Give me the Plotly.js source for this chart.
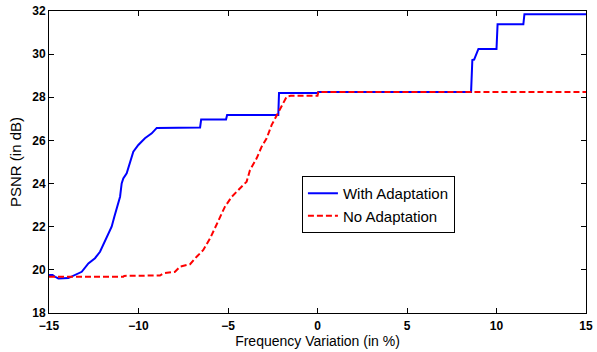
<!DOCTYPE html>
<html>
<head>
<meta charset="utf-8">
<script src="https://cdn.plot.ly/plotly-3.0.1.min.js"></script>
<style>html,body{margin:0;padding:0;background:#fff;}#chart{width:597px;height:352px;}</style>
</head>
<body>
<div id="chart"></div>
<script>
// With Adaptation
const withX = [-15, -14.8, -14.66, -14.48, -13.92, -13.55, -13.17, -12.8, -12.43, -12.15, -11.97, -11.69, -11.5, -11.35, -11.16, -11.03, -10.94, -10.85, -10.66, -10.47, -10.29, -10.01, -9.64, -9.26, -8.98, -6.56, -6.5, -5.11, -5.05, -2.19, -2.15, 0, 0.05, 8.58, 8.65, 8.75, 8.99, 10.0, 10.06, 11.5, 11.56, 15];
const withY = [19.76, 19.76, 19.68, 19.6, 19.62, 19.76, 19.91, 20.3, 20.54, 20.84, 21.15, 21.62, 22.0, 22.46, 22.96, 23.39, 24.01, 24.24, 24.48, 25.02, 25.48, 25.79, 26.1, 26.33, 26.58, 26.6, 26.97, 26.97, 27.18, 27.18, 28.2, 28.2, 28.25, 28.25, 29.73, 29.75, 30.24, 30.24, 31.38, 31.38, 31.85, 31.85];
// No Adaptation
const noX = [-15, -10.85, -10.8, -8.8, -8.61, -7.96, -7.68, -7.12, -6.75, -6.38, -6.0, -5.73, -5.35, -5.17, -4.79, -4.33, -3.96, -3.77, -3.4, -3.12, -2.84, -2.56, -2.28, -2.0, -1.72, -1.5, 0, 0.05, 15];
const noY = [19.68, 19.68, 19.72, 19.74, 19.84, 19.91, 20.15, 20.26, 20.61, 20.92, 21.46, 21.93, 22.62, 22.93, 23.39, 23.78, 24.09, 24.63, 25.17, 25.71, 26.1, 26.72, 27.18, 27.64, 28.03, 28.07, 28.07, 28.25, 28.25];
const xTicks = [-15, -10, -5, 0, 5, 10, 15];
const yTicks = [18, 20, 22, 24, 26, 28, 30, 32];
const seriesNames = ["With Adaptation", "No Adaptation"];

const traces = [
  {x: withX, y: withY, name: seriesNames[0], mode: 'lines', line: {color: '#0000ff', width: 2}},
  {x: noX, y: noY, name: seriesNames[1], mode: 'lines', line: {color: '#ff0000', width: 2, dash: '6px,3px'}}
];
const axisCommon = {
  showgrid: false, zeroline: false, showline: true, linecolor: '#000', linewidth: 1,
  mirror: 'ticks', ticks: 'inside', ticklen: 5, tickcolor: '#000',
  tickfont: {family: 'Arial, Liberation Sans, sans-serif', size: 12, color: '#000', weight: 'bold'}
};
const layout = {
  width: 597, height: 352,
  margin: {l: 49, r: 11, t: 11, b: 39},
  paper_bgcolor: '#fff', plot_bgcolor: '#fff',
  showlegend: true,
  legend: {x: 0.471, y: 0.4536, xanchor: 'left', yanchor: 'top', bgcolor: '#fff',
    bordercolor: '#000', borderwidth: 1,
    font: {family: 'Arial, Liberation Sans, sans-serif', size: 15, color: '#000'}},
  xaxis: Object.assign({}, axisCommon, {range: [-15, 15], tickvals: xTicks, ticklabelstandoff: 2,
    title: {text: 'Frequency Variation (in %)', standoff: 1,
      font: {family: 'Liberation Sans Narrow, Arial, sans-serif', size: 14, color: '#000'}}}),
  yaxis: Object.assign({}, axisCommon, {range: [18, 32], tickvals: yTicks,
    title: {text: 'PSNR (in dB)', standoff: 6,
      font: {family: 'Liberation Sans Narrow, Arial, sans-serif', size: 15, color: '#000'}}})
};
Plotly.newPlot('chart', traces, layout, {displayModeBar: false, staticPlot: true});
</script>
</body>
</html>
